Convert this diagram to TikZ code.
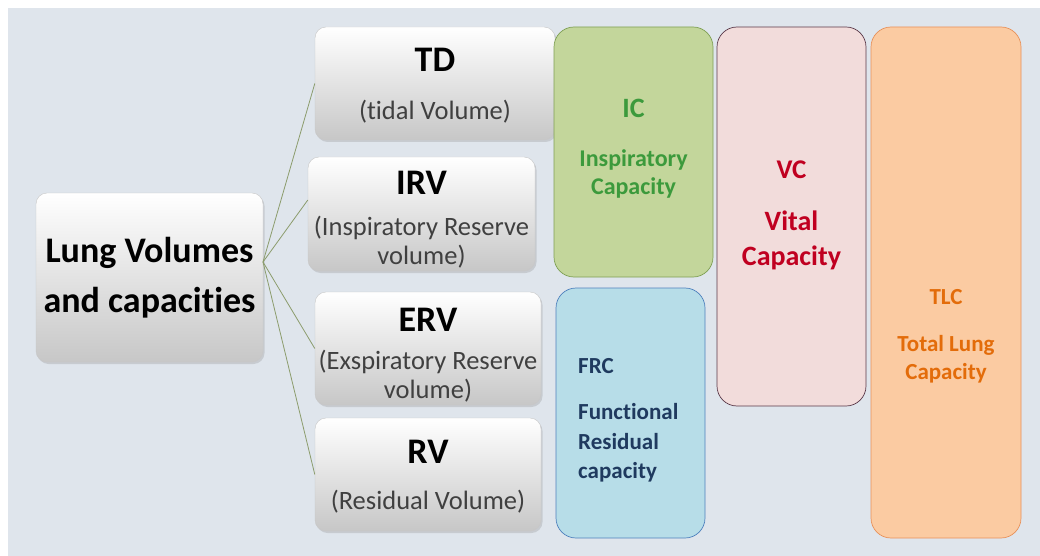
\documentclass[tikz,border=0pt]{standalone}
\usepackage{fontspec}
\setmainfont{Carlito}[Ligatures=NoCommon, RawFeature={-liga}]
\usetikzlibrary{shadows}
\definecolor{bg}{HTML}{DFE5EC}
\definecolor{icfill}{HTML}{C3D69B}
\definecolor{icdraw}{HTML}{7FA055}
\definecolor{ictext}{HTML}{3C9A3C}
\definecolor{frcfill}{HTML}{B7DDE8}
\definecolor{frcdraw}{HTML}{4F81BD}
\definecolor{frctext}{HTML}{1F3A5F}
\definecolor{vcfill}{HTML}{F2DCDB}
\definecolor{vcdraw}{HTML}{5B3A4A}
\definecolor{vctext}{HTML}{C00020}
\definecolor{tlcfill}{HTML}{FBCBA2}
\definecolor{tlcdraw}{HTML}{E8915A}
\definecolor{tlctext}{HTML}{E36C0A}
\definecolor{conncol}{HTML}{8C9C6C}
\begin{document}
\begin{tikzpicture}[x=1pt,y=-1pt,
  gbox/.style={rounded corners=11pt, top color=white, bottom color=black!22,
    draw=black!22, line width=0.4pt, inner sep=0pt,
    drop shadow={opacity=0.25, shadow xshift=1.5pt, shadow yshift=-2pt}},
  cbox/.style={rounded corners=20pt, line width=0.7pt, inner sep=0pt},
  ttl/.style={font=\fontsize{36}{40}\selectfont\bfseries, inner sep=0pt},
  sub/.style={font=\fontsize{26.5}{29}\selectfont, text=black!75, align=center, inner sep=0pt},
  conn/.style={draw=conncol, line width=0.8pt}
]
\useasboundingbox (0,0) rectangle (1040,556);
\fill[white] (0,0) rectangle (1040,556);
\fill[bg] (8,8) rectangle (1040,556);

% main node
\node[gbox, minimum width=227pt, minimum height=169pt,
  font=\fontsize{36}{50}\selectfont\bfseries, align=center] (main) at (149.5,277.5)
  {Lung Volumes\\and capacities};

% volume boxes
\node[gbox, minimum width=240pt, minimum height=113pt] (td) at (435,83.5) {};
\node[ttl] (tdt) at (435,60) {TD};
\node[sub] (tds) at (435,112) {(tidal Volume)};

\node[gbox, minimum width=227pt, minimum height=114pt] (irv) at (421.5,214) {};
\node[ttl] (irvt) at (421.5,183) {IRV};
\node[sub] (irvs) at (421.5,242.5) {(Inspiratory Reserve\\volume)};

\node[gbox, minimum width=226pt, minimum height=113pt] (erv) at (428,348.5) {};
\node[ttl] (ervt) at (428,320) {ERV};
\node[sub] (ervs) at (428,376) {(Exspiratory Reserve\\volume)};

\node[gbox, minimum width=226pt, minimum height=113pt] (rv) at (428,474.5) {};
\node[ttl] (rvt) at (428,452) {RV};
\node[sub] (rvs) at (428,502) {(Residual Volume)};

% connectors
\coordinate (hub) at (263,262);
\draw[conn] (hub) -- (td.west);
\draw[conn] (hub) -- ([yshift=14pt]irv.west);
\draw[conn] (hub) -- (erv.west);
\draw[conn] (hub) -- (rv.west);

% capacity boxes
\node[cbox, fill=icfill, draw=icdraw, minimum width=159pt, minimum height=250pt] (ic) at (633.5,152) {};
\node[text=ictext, font=\fontsize{28}{32}\selectfont\bfseries, inner sep=0pt] (ict) at (633.5,108) {IC};
\node[text=ictext, font=\fontsize{24}{28}\selectfont\bfseries, align=center, inner sep=0pt] (ics) at (633.5,174) {Inspiratory\\Capacity};

\node[cbox, fill=frcfill, draw=frcdraw, minimum width=149pt, minimum height=250pt] (frc) at (630.5,413) {};
\node[text=frctext, font=\fontsize{23}{27}\selectfont\bfseries, anchor=west, inner sep=0pt] (frct) at (578,366) {FRC};
\node[text=frctext, font=\fontsize{23}{29.5}\selectfont\bfseries, align=left, anchor=west, inner sep=0pt] (frcs) at (578,443) {Functional\\Residual\\capacity};

\node[cbox, fill=vcfill, draw=vcdraw, minimum width=149pt, minimum height=379pt] (vc) at (791.5,216.5) {};
\node[text=vctext, font=\fontsize{27}{30}\selectfont\bfseries, inner sep=0pt] (vct) at (791.5,170) {VC};
\node[text=vctext, font=\fontsize{28}{35}\selectfont\bfseries, align=center, inner sep=0pt] (vcs) at (791.5,240.5) {Vital\\Capacity};

\node[cbox, fill=tlcfill, draw=tlcdraw, minimum width=150pt, minimum height=511pt] (tlc) at (946,282.5) {};
\node[text=tlctext, font=\fontsize{23}{27}\selectfont\bfseries, inner sep=0pt] (tlct) at (946,297) {TLC};
\node[text=tlctext, font=\fontsize{23}{28}\selectfont\bfseries, align=center, inner sep=0pt] (tlcs) at (946,359) {Total Lung\\Capacity};
\end{tikzpicture}
\end{document}
